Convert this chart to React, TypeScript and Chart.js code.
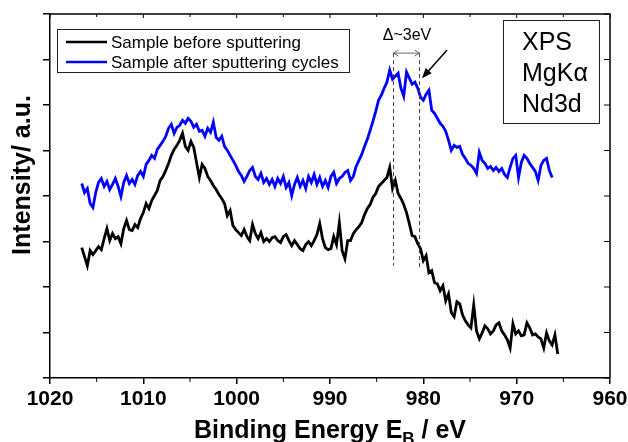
import React, { useEffect, useRef } from 'react';
import { Chart, registerables } from 'chart.js';
Chart.register(...registerables);

// Binding energy grid (eV)
const energies = [
  1016.6, 1016.3, 1016.0, 1015.7, 1015.4, 1015.1, 1014.8, 1014.5, 1014.2, 1013.9,
  1013.6, 1013.3, 1013.0, 1012.7, 1012.4, 1012.1, 1011.8, 1011.5, 1011.2, 1010.9,
  1010.6, 1010.3, 1010.0, 1009.7, 1009.4, 1009.1, 1008.8, 1008.5, 1008.2, 1007.9,
  1007.6, 1007.3, 1007.0, 1006.7, 1006.4, 1006.1, 1005.8, 1005.5, 1005.2, 1004.9,
  1004.6, 1004.3, 1004.0, 1003.7, 1003.4, 1003.1, 1002.8, 1002.5, 1002.2, 1001.9,
  1001.6, 1001.3, 1001.0, 1000.7, 1000.4, 1000.1, 999.8, 999.5, 999.2, 998.9,
  998.6, 998.3, 998.0, 997.7, 997.4, 997.1, 996.8, 996.5, 996.2, 995.9,
  995.6, 995.3, 995.0, 994.7, 994.4, 994.1, 993.8, 993.5, 993.2, 992.9,
  992.6, 992.3, 992.0, 991.7, 991.4, 991.1, 990.8, 990.5, 990.2, 989.9,
  989.6, 989.3, 989.0, 988.7, 988.4, 988.1, 987.8, 987.5, 987.2, 986.9,
  986.6, 986.3, 986.0, 985.7, 985.4, 985.1, 984.8, 984.5, 984.2, 983.9,
  983.6, 983.3, 983.0, 982.7, 982.4, 982.1, 981.8, 981.5, 981.2, 980.9,
  980.6, 980.3, 980.0, 979.7, 979.4, 979.1, 978.8, 978.5, 978.2, 977.9,
  977.6, 977.3, 977.0, 976.7, 976.4, 976.1, 975.8, 975.5, 975.2, 974.9,
  974.6, 974.3, 974.0, 973.7, 973.4, 973.1, 972.8, 972.5, 972.2, 971.9,
  971.6, 971.3, 971.0, 970.7, 970.4, 970.1, 969.8, 969.5, 969.2, 968.9,
  968.6, 968.3, 968.0, 967.7, 967.4, 967.1, 966.8, 966.5, 966.2, 965.9,
  965.6,
];

// Sample before sputtering (a.u.)
const beforeSputtering = [
  130, 121, 112, 127, 123, 127, 131, 128, 139, 149,
  137, 144, 139, 141, 134, 149, 157, 148, 147, 153,
  150, 159, 165, 174, 169, 177, 182, 187, 197, 201,
  207, 214, 222, 228, 232, 237, 244, 231, 227, 236,
  230, 215, 200, 213, 209, 201, 197, 192, 188, 183,
  179, 174, 162, 167, 152, 148, 145, 142, 148, 141,
  137, 153, 144, 139, 145, 136, 139, 136, 140, 141,
  137, 135, 141, 143, 137, 132, 137, 133, 129, 127,
  133, 136, 132, 137, 143, 154, 139, 130, 128, 129,
  141, 133, 155, 127, 119, 137, 137, 144, 148, 151,
  155, 163, 169, 173, 180, 184, 191, 194, 197, 200,
  210, 189, 197, 184, 179, 173, 165, 154, 142, 141,
  134, 129, 117, 122, 105, 107, 95, 94, 87, 92,
  77, 84, 65, 61, 76, 74, 63, 57, 53, 50,
  73, 47, 39, 45, 52, 49, 44, 47, 53, 55,
  47, 43, 38, 30, 54, 44, 47, 42, 43, 55,
  50, 43, 44, 41, 39, 30, 45, 37, 33, 43,
  24,
];

// Sample after sputtering cycles (a.u.)
const afterSputtering = [
  194, 185, 189, 174, 170, 185, 195, 199, 191, 196,
  188, 193, 199, 191, 181, 195, 202, 194, 198, 193,
  202, 206, 201, 213, 217, 222, 219, 228, 232, 236,
  241, 249, 253, 244, 250, 252, 257, 254, 259, 256,
  250, 253, 246, 247, 241, 249, 245, 255, 240, 237,
  241, 231, 227, 222, 217, 212, 206, 202, 196, 201,
  207, 210, 201, 198, 204, 195, 199, 193, 198, 191,
  199, 194, 201, 190, 195, 182, 193, 200, 191, 197,
  189, 201, 195, 203, 193, 200, 191, 197, 190, 201,
  205, 194, 199, 201, 205, 207, 197, 201, 211, 217,
  223, 231, 238, 247, 256, 266, 277, 282, 289, 295,
  307, 298, 301, 304, 289, 281, 305, 299, 293, 295,
  289, 280, 277, 283, 287, 267, 264, 259, 254, 251,
  246, 237, 227, 232, 230, 231, 223, 219, 214, 212,
  209, 204, 225, 217, 214, 209, 211, 207, 210, 206,
  209, 203, 200, 210, 219, 222, 200, 215, 222, 219,
  214, 210, 206, 197, 212, 217, 219, 207, 200,
];

const seriesNames = ['Sample before sputtering', 'Sample after sputtering cycles'];
const seriesColors = ['#000000', '#0000ff'];
const xRange = [960, 1020];
const xStep = 10;
const yRange = [0, 363];
const yStep = 45.375;
const xTitleParts = ['Binding Energy E', 'B', ' / eV'];
const yTitle = 'Intensity/ a.u.';
const infoLines = ['XPS', 'MgKα', 'Nd3d'];
const shiftLabel = 'Δ~3eV';
const markerEnergies = [983.25, 980.46];
const markerTop = 324;
const markerBottoms = [112, 109];
const arrowFrom = { x: 977.46, y: 327 };
const arrowTo = { x: 980.14, y: 299 };
const shiftLabelPos = { x: 981.75, y: 337 };

const FONT = 'Arial, "Liberation Sans", Helvetica, sans-serif';

const overlayPlugin = {
  id: 'overlay',
  afterDraw(chart: any) {
    const { ctx, chartArea: a, scales } = chart;
    const x = scales.x;
    const y = scales.y;
    ctx.save();
    // frame top/right
    ctx.strokeStyle = '#000';
    ctx.lineWidth = 1.5;
    ctx.beginPath();
    ctx.moveTo(a.left, a.top);
    ctx.lineTo(a.right, a.top);
    ctx.lineTo(a.right, a.bottom);
    ctx.stroke();
    // minor / top ticks
    ctx.lineWidth = 1;
    for (let e = xRange[0]; e <= xRange[1]; e += 5) {
      const px = x.getPixelForValue(e);
      const major = e % 10 === 0;
      ctx.beginPath();
      if (!major) {
        ctx.moveTo(px, a.bottom);
        ctx.lineTo(px, a.bottom + 4);
      }
      ctx.moveTo(px, a.top);
      ctx.lineTo(px, a.top + (major ? 4 : 3));
      ctx.stroke();
    }
    y.ticks.forEach((t: any) => {
      const py = y.getPixelForValue(t.value);
      ctx.beginPath();
      ctx.moveTo(a.right - 6, py);
      ctx.lineTo(a.right, py);
      ctx.stroke();
    });

    // marker dashed lines
    ctx.strokeStyle = '#444';
    ctx.lineWidth = 1;
    ctx.setLineDash([4, 3]);
    markerEnergies.forEach((e, i) => {
      const px = Math.round(x.getPixelForValue(e)) + 0.5;
      ctx.beginPath();
      ctx.moveTo(px, y.getPixelForValue(markerTop));
      ctx.lineTo(px, y.getPixelForValue(markerBottoms[i]));
      ctx.stroke();
    });
    ctx.setLineDash([]);
    // double arrow
    const x1 = Math.round(x.getPixelForValue(markerEnergies[0])) + 0.5;
    const x2 = Math.round(x.getPixelForValue(markerEnergies[1])) + 0.5;
    const ya = y.getPixelForValue(markerTop);
    ctx.strokeStyle = '#666';
    ctx.beginPath();
    ctx.moveTo(x1, ya);
    ctx.lineTo(x2, ya);
    ctx.moveTo(x1 + 5, ya - 3);
    ctx.lineTo(x1, ya);
    ctx.lineTo(x1 + 5, ya + 3);
    ctx.moveTo(x2 - 5, ya - 3);
    ctx.lineTo(x2, ya);
    ctx.lineTo(x2 - 5, ya + 3);
    ctx.stroke();
    // label
    ctx.fillStyle = '#000';
    ctx.font = `16px ${FONT}`;
    ctx.textAlign = 'center';
    ctx.textBaseline = 'alphabetic';
    ctx.fillText(shiftLabel, x.getPixelForValue(shiftLabelPos.x), y.getPixelForValue(shiftLabelPos.y));
    // arrow
    const ax0 = x.getPixelForValue(arrowFrom.x), ay0 = y.getPixelForValue(arrowFrom.y);
    const ax1 = x.getPixelForValue(arrowTo.x), ay1 = y.getPixelForValue(arrowTo.y);
    const ang = Math.atan2(ay1 - ay0, ax1 - ax0);
    ctx.strokeStyle = '#000';
    ctx.lineWidth = 1.5;
    ctx.beginPath();
    ctx.moveTo(ax0, ay0);
    ctx.lineTo(ax1 - 6 * Math.cos(ang), ay1 - 6 * Math.sin(ang));
    ctx.stroke();
    ctx.beginPath();
    ctx.moveTo(ax1, ay1);
    ctx.lineTo(ax1 - 10 * Math.cos(ang) + 4 * Math.sin(ang), ay1 - 10 * Math.sin(ang) - 4 * Math.cos(ang));
    ctx.lineTo(ax1 - 10 * Math.cos(ang) - 4 * Math.sin(ang), ay1 - 10 * Math.sin(ang) + 4 * Math.cos(ang));
    ctx.closePath();
    ctx.fill();

    // legend
    ctx.strokeStyle = '#222';
    ctx.lineWidth = 1;
    ctx.strokeRect(57.5, 29.5, 292, 43);
    ctx.font = `17px ${FONT}`;
    ctx.textAlign = 'left';
    ctx.textBaseline = 'middle';
    seriesNames.forEach((n, i) => {
      const ly = 42 + i * 20;
      ctx.strokeStyle = seriesColors[i];
      ctx.lineWidth = 2.5;
      ctx.beginPath();
      ctx.moveTo(66, ly);
      ctx.lineTo(107, ly);
      ctx.stroke();
      ctx.fillStyle = '#000';
      ctx.fillText(n, 111, ly + 1);
    });

    // info box
    ctx.strokeStyle = '#222';
    ctx.lineWidth = 1;
    ctx.strokeRect(503.5, 20.5, 96, 103);
    ctx.font = `25px ${FONT}`;
    ctx.textBaseline = 'alphabetic';
    ctx.fillStyle = '#000';
    infoLines.forEach((t, i) => ctx.fillText(t, 522, 50 + i * 31));

    // x title
    const cx = (a.left + a.right) / 2;
    const big = `bold 25px ${FONT}`;
    const small = `bold 17px ${FONT}`;
    ctx.font = big;
    const w1 = ctx.measureText(xTitleParts[0]).width;
    const w3 = ctx.measureText(xTitleParts[2]).width;
    ctx.font = small;
    const w2 = ctx.measureText(xTitleParts[1]).width;
    let sx = cx - (w1 + w2 + w3) / 2;
    ctx.textAlign = 'left';
    ctx.font = big;
    ctx.fillText(xTitleParts[0], sx, 438);
    sx += w1;
    ctx.font = small;
    ctx.fillText(xTitleParts[1], sx, 444);
    sx += w2;
    ctx.font = big;
    ctx.fillText(xTitleParts[2], sx, 438);

    // y title
    ctx.translate(30, 175);
    ctx.rotate(-Math.PI / 2);
    ctx.textAlign = 'center';
    ctx.font = big;
    ctx.fillText(yTitle, 0, 0);
    ctx.restore();
  },
};

export default function App() {
  const ref = useRef<HTMLCanvasElement>(null);
  useEffect(() => {
    if (!ref.current) return;
    const chart = new Chart(ref.current, {
      type: 'line',
      data: {
        datasets: [
          {
            label: seriesNames[0],
            data: beforeSputtering.map((v, i) => ({ x: energies[i], y: v })),
            borderColor: seriesColors[0],
            borderWidth: 2.8,
            pointRadius: 0,
            tension: 0,
          },
          {
            label: seriesNames[1],
            data: afterSputtering.map((v, i) => ({ x: energies[i], y: v })),
            borderColor: seriesColors[1],
            borderWidth: 2.8,
            pointRadius: 0,
            tension: 0,
          },
        ],
      },
      options: {
        animation: false,
        responsive: false,
        layout: { padding: { left: 43, right: 18, top: 14, bottom: 26.8 } },
        plugins: { legend: { display: false }, tooltip: { enabled: false } },
        scales: {
          x: {
            type: 'linear',
            reverse: true,
            min: xRange[0],
            max: xRange[1],
            afterFit: (s: any) => { s.paddingLeft = 0; s.paddingRight = 0; },
            ticks: {
              stepSize: xStep,
              color: '#000',
              padding: 3,
              font: { family: FONT, size: 21, weight: 'bold' },
              maxRotation: 0,
              callback: (v: any) => String(Math.round(Number(v))),
            },
            grid: { display: true, drawOnChartArea: false, drawTicks: true, tickLength: 6, color: '#000', lineWidth: 1.5 },
            border: { display: true, color: '#000', width: 1.5 },
          },
          y: {
            type: 'linear',
            min: yRange[0],
            max: yRange[1],
            ticks: { display: false, stepSize: yStep },
            grid: { display: true, drawOnChartArea: false, drawTicks: true, tickLength: 7, color: '#000', lineWidth: 1.5 },
            border: { display: true, color: '#000', width: 1.5 },
          },
        },
      } as any,
      plugins: [overlayPlugin],
    });
    return () => chart.destroy();
  }, []);
  return (
    <div style={{ position: 'fixed', left: 0, top: 0, width: 628, height: 442, background: '#fff' }}>
      <canvas ref={ref} width={628} height={442} style={{ display: 'block' }} />
    </div>
  );
}
